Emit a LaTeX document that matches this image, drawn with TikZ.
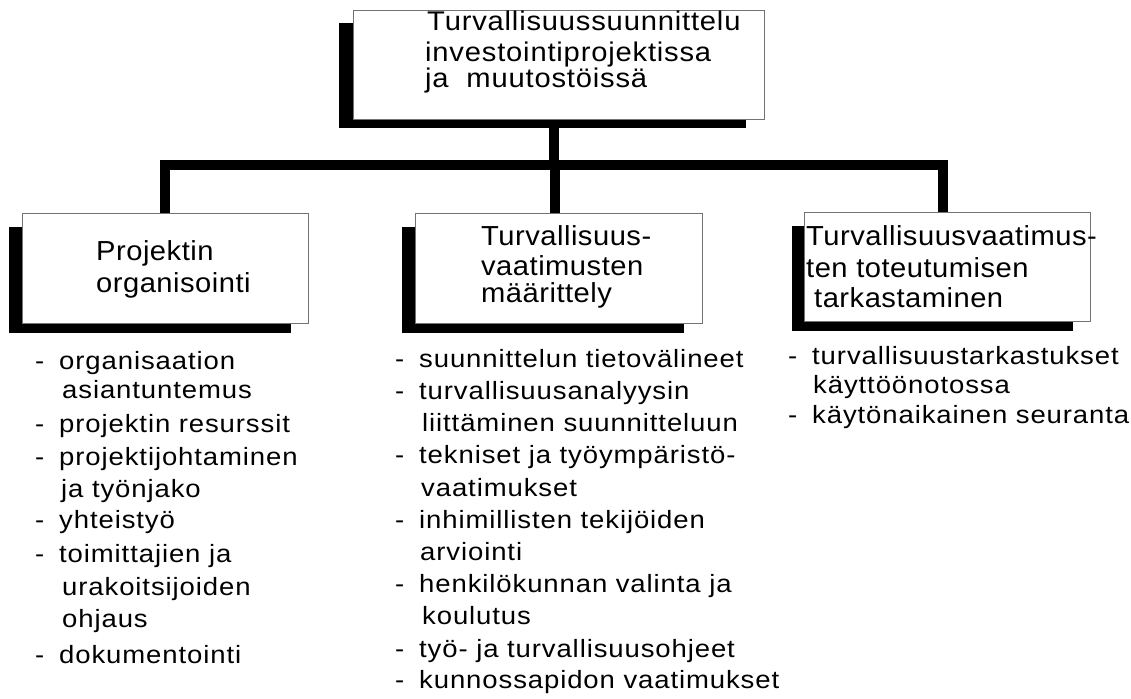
\documentclass[tikz,border=0pt]{standalone}
\usepackage{fontspec}
\setmainfont{Liberation Sans}
\newfontfamily\headfont{Liberation Sans}[FakeStretch=1.08, LetterSpace=3]
\newfontfamily\boxfont{Liberation Sans}[FakeStretch=1.06, LetterSpace=1.8]
\newfontfamily\listfont{Liberation Sans}[FakeStretch=1.1, LetterSpace=3.6]
\usetikzlibrary{backgrounds}
\begin{document}
\begin{tikzpicture}[x=1pt,y=-1pt,
  box/.style={draw=black!55, line width=1pt, fill=white, inner sep=0pt, anchor=north west},
  shade/.style={fill=black},
  conn/.style={draw=black, line width=10pt, line join=miter},
  headtext/.style={inner sep=0pt, anchor=base west, font=\headfont\fontsize{27}{32}\selectfont},
  boxtext/.style={inner sep=0pt, anchor=base west, font=\boxfont\fontsize{27.5}{32}\selectfont},
  item/.style={inner sep=0pt, anchor=base west, font=\listfont\fontsize{25}{32}\selectfont}]
\useasboundingbox (0,0) rectangle (1131,698);

% boxes
\node[box, minimum width=411, minimum height=109] (top) at (353,10) {};
\node[box, minimum width=286, minimum height=110] (org) at (22,213) {};
\node[box, minimum width=287, minimum height=110] (req) at (415,213) {};
\node[box, minimum width=286, minimum height=109] (check) at (804,212) {};
\coordinate (hub) at (554,165);

\begin{pgfonlayer}{background}
  % drop shadows
  \fill[shade] (339,23) rectangle (746,128);
  \fill[shade] (9,227) rectangle (291,333);
  \fill[shade] (402,227) rectangle (684,333);
  \fill[shade] (792,226) rectangle (1073,331);
  % tree connectors
  \draw[conn] ([xshift=-5]top.south) -- ([xshift=-5]top.south |- hub);
  \draw[conn] ([xshift=-0.5]org.north) |- ([xshift=-5]check.north |- hub) -- ([xshift=-5]check.north);
  \draw[conn] ([xshift=-4]req.north |- hub) -- ([xshift=-4]req.north);
\end{pgfonlayer}

% box titles
\node[headtext] (t1) at (427,31) {Turvallisuussuunnittelu};
\node[headtext] (t2) at (425,62) {investointiprojektissa};
\node[headtext] (t3) at (425,88) {ja\ \ muutostöissä};

\node[boxtext] (o1) at (96,260) {Projektin};
\node[boxtext] (o2) at (96,292) {organisointi};

\node[boxtext] (r1) at (481,245) {Turvallisuus-};
\node[boxtext] (r2) at (481,275) {vaatimusten};
\node[boxtext] (r3) at (481,302) {määrittely};

\node[boxtext] (c1) at (806,245) {Turvallisuusvaatimus-};
\node[boxtext] (c2) at (806,277) {ten toteutumisen};
\node[boxtext] (c3) at (814,307) {tarkastaminen};

% list under "Projektin organisointi"
\foreach \yy [count=\i] in {369,432,465,528,562,663}
  \node[item] (ad\i) at (35,\yy) {-};
\foreach \xx/\yy/\txt [count=\i] in {
    59/369/organisaation, 62/398/asiantuntemus, 59/432/projektin resurssit,
    59/465/projektijohtaminen, 61/497/ja työnjako, 59/528/yhteistyö,
    59/562/toimittajien ja, 62/595/urakoitsijoiden, 62/627/ohjaus,
    59/663/dokumentointi}
  \node[item] (a\i) at (\xx,\yy) {\txt};

% list under "Turvallisuusvaatimusten määrittely"
\foreach \yy [count=\i] in {367,399,463,528,592,657,688}
  \node[item] (bd\i) at (395,\yy) {-};
\foreach \xx/\yy/\txt [count=\i] in {
    419/367/suunnittelun tietovälineet, 419/399/turvallisuusanalyysin,
    422/431/liittäminen suunnitteluun, 419/463/tekniset ja työympäristö-,
    421/496/vaatimukset, 419/528/inhimillisten tekijöiden,
    420/560/arviointi, 419/592/henkilökunnan valinta ja,
    422/624/koulutus, 419/657/työ- ja turvallisuusohjeet,
    419/688/kunnossapidon vaatimukset}
  \node[item] (b\i) at (\xx,\yy) {\txt};

% list under "Turvallisuusvaatimusten toteutumisen tarkastaminen"
\foreach \yy [count=\i] in {364,423}
  \node[item] (cd\i) at (788,\yy) {-};
\foreach \xx/\yy/\txt [count=\i] in {
    812/364/turvallisuustarkastukset, 813/393/käyttöönotossa,
    812/423/käytönaikainen seuranta}
  \node[item] (c\i) at (\xx,\yy) {\txt};
\end{tikzpicture}
\end{document}
